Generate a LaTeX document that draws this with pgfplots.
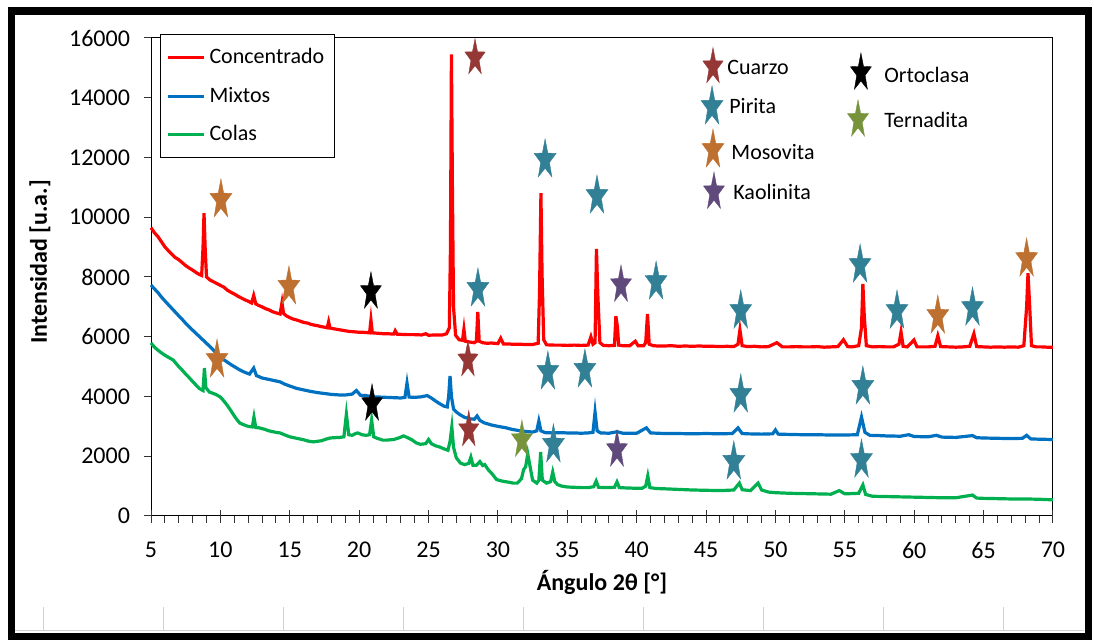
\documentclass[border=0pt]{standalone}
\usepackage{fontspec}
\setmainfont{Carlito}
\usepackage{pgfplots}
\pgfplotsset{compat=1.18}
\definecolor{cred}{RGB}{255,0,0}
\definecolor{cblue}{RGB}{0,112,192}
\definecolor{cgreen}{RGB}{0,176,80}
\definecolor{cuarzo}{RGB}{149,55,53}
\definecolor{pirita}{RGB}{49,128,150}
\definecolor{mosovita}{RGB}{190,112,48}
\definecolor{kaolinita}{RGB}{96,74,123}
\definecolor{ternadita}{RGB}{119,147,60}
\pgfdeclareplotmark{xstar}{%
  \pgfpathmoveto{\pgfpoint{0pt}{\pgfplotmarksize}}%
  \pgfpathlineto{\pgfpoint{0.1294\pgfplotmarksize}{0.3236\pgfplotmarksize}}%
  \pgfpathlineto{\pgfpoint{0.5231\pgfplotmarksize}{0.309\pgfplotmarksize}}%
  \pgfpathlineto{\pgfpoint{0.2092\pgfplotmarksize}{-0.1236\pgfplotmarksize}}%
  \pgfpathlineto{\pgfpoint{0.3233\pgfplotmarksize}{-0.809\pgfplotmarksize}}%
  \pgfpathlineto{\pgfpoint{0pt}{-0.4\pgfplotmarksize}}%
  \pgfpathlineto{\pgfpoint{-0.3233\pgfplotmarksize}{-0.809\pgfplotmarksize}}%
  \pgfpathlineto{\pgfpoint{-0.2092\pgfplotmarksize}{-0.1236\pgfplotmarksize}}%
  \pgfpathlineto{\pgfpoint{-0.5231\pgfplotmarksize}{0.309\pgfplotmarksize}}%
  \pgfpathlineto{\pgfpoint{-0.1294\pgfplotmarksize}{0.3236\pgfplotmarksize}}%
  \pgfpathclose
  \pgfusepathqfillstroke
}
\pgfplotstableread{
x y
5.0 9650
5.25 9480
5.5 9350
5.75 9180
6.0 9010
6.25 8880
6.5 8760
6.75 8650
7.0 8580
7.25 8480
7.5 8380
7.75 8300
8.0 8230
8.25 8150
8.5 8080
8.65 8050
8.75 9000
8.82 10140
8.9 9000
9.0 8000
9.25 7900
9.5 7840
9.75 7780
10.0 7720
10.25 7660
10.5 7560
10.75 7490
11.0 7430
11.25 7360
11.5 7300
11.75 7240
12.0 7190
12.25 7130
12.4 7380
12.55 7100
12.75 7050
13.0 7000
13.25 6940
13.5 6900
13.75 6840
14.0 6800
14.3 6760
14.44 7140
14.55 6780
14.75 6700
15.0 6640
15.25 6590
15.5 6560
15.75 6520
16.0 6480
16.25 6460
16.5 6420
16.75 6390
17.0 6370
17.25 6340
17.5 6320
17.7 6300
17.8 6500
17.9 6290
18.25 6260
18.5 6240
18.75 6220
19.0 6200
19.25 6180
19.5 6170
19.75 6160
20.0 6150
20.25 6150
20.5 6140
20.75 6130
20.85 6560
20.95 6130
21.25 6120
21.5 6110
21.75 6100
22.0 6100
22.5 6090
22.6 6200
22.75 6080
23.0 6080
23.5 6070
24.0 6070
24.5 6060
24.8 6100
25.0 6050
25.5 6060
26.0 6060
26.3 6100
26.5 6300
26.58 9000
26.65 15450
26.72 11000
26.8 7000
26.95 6050
27.2 5900
27.45 5880
27.55 6250
27.65 5850
28.0 5820
28.3 5800
28.45 5850
28.55 6830
28.65 5850
28.9 5800
29.25 5780
29.5 5790
30.0 5770
30.2 5950
30.4 5760
30.75 5760
31.0 5750
31.5 5750
32.0 5740
32.5 5740
32.9 5780
33.0 7500
33.1 10810
33.18 8100
33.3 5900
33.5 5730
34.0 5720
34.5 5720
35.0 5710
35.5 5720
36.0 5710
36.5 5720
36.7 6000
36.85 5750
37.0 5800
37.1 8940
37.2 7400
37.35 5800
37.6 5710
38.0 5700
38.4 5710
38.5 6690
38.62 6300
38.7 5720
39.0 5700
39.5 5700
39.9 5850
40.1 5700
40.5 5700
40.65 5800
40.78 6760
40.9 5750
41.2 5700
41.5 5690
42 5690
42.5 5700
43 5680
43.5 5690
44 5680
44.5 5690
45 5680
45.5 5680
46 5670
46.5 5680
47 5670
47.3 5750
47.44 6230
47.6 5700
48 5670
48.5 5680
49 5660
49.5 5670
50.1 5800
50.5 5660
51 5660
51.5 5670
52 5660
52.5 5660
53 5670
53.5 5650
54 5660
54.5 5670
54.9 5900
55.2 5670
55.5 5660
56.0 5700
56.2 6300
56.3 7770
56.4 6700
56.55 5700
57 5660
57.5 5670
58 5660
58.5 5660
58.9 5750
59.05 6160
59.2 5680
59.5 5660
59.98 5890
60.2 5660
60.5 5660
61 5660
61.5 5680
61.7 6030
61.9 5670
62.5 5660
63 5650
63.5 5660
64.0 5680
64.3 6100
64.5 5670
65 5660
65.5 5650
66 5660
66.5 5650
67 5660
67.5 5650
67.9 5700
68.1 7000
68.2 8130
68.32 7030
68.45 5700
68.8 5660
69.2 5660
69.6 5650
70 5650
}\concentrado
\pgfplotstableread{
x y
5.0 7730
5.25 7600
5.5 7480
5.75 7330
6.0 7200
6.3 7050
6.6 6900
7.0 6700
7.25 6580
7.5 6450
7.75 6330
8.0 6220
8.25 6110
8.5 6000
8.75 5890
9.0 5780
9.25 5670
9.5 5550
9.75 5430
10.0 5320
10.25 5230
10.5 5150
10.75 5070
11.0 5000
11.4 4890
11.75 4810
12.1 4750
12.4 4950
12.6 4700
13.0 4620
13.5 4570
14.0 4520
14.3 4490
14.6 4420
15.0 4350
15.5 4270
16.0 4220
16.5 4170
17.0 4130
17.5 4100
18.0 4070
18.6 4050
19.0 4050
19.5 4080
19.8 4200
20.1 4040
20.5 4030
21.0 3980
21.5 3980
22.0 3970
22.5 3960
23.0 3950
23.3 3970
23.45 4450
23.6 3980
24.0 3970
24.5 3990
24.9 4030
25.2 3950
25.5 3850
25.8 3760
26.1 3680
26.35 3650
26.45 4000
26.55 4690
26.65 4000
26.8 3580
27.0 3480
27.3 3380
27.6 3300
28.0 3250
28.3 3240
28.5 3350
28.7 3200
29.0 3120
29.5 3050
30.0 3000
30.6 2950
31.0 2900
31.5 2860
32.0 2830
32.5 2810
32.8 2850
32.95 3180
33.1 2850
33.4 2790
34.0 2780
34.5 2790
35.0 2780
35.5 2780
36.0 2770
36.5 2780
36.85 2800
37.0 3480
37.15 2850
37.4 2780
38.0 2770
38.6 2820
39.0 2770
39.5 2770
40.0 2770
40.7 2950
41.0 2780
41.5 2770
42 2760
43 2760
44 2750
45 2760
46 2750
46.9 2760
47.3 2950
47.6 2760
48 2750
49 2740
49.8 2750
50.0 2880
50.2 2740
51 2730
52 2720
53 2720
54 2710
55 2710
55.9 2720
56.2 3310
56.45 2800
56.8 2700
57.5 2690
58 2680
59 2670
59.6 2720
60 2660
61 2650
61.6 2700
62 2640
63 2630
64.2 2690
64.5 2620
65 2610
66 2600
67 2590
67.8 2600
68.1 2700
68.4 2580
69 2570
70 2560
}\mixtos
\pgfplotstableread{
x y
5.0 5790
5.25 5650
5.5 5550
5.75 5460
6.0 5380
6.3 5300
6.6 5220
7.0 5000
7.25 4880
7.5 4750
7.75 4630
8.0 4500
8.25 4380
8.5 4260
8.75 4200
8.85 4950
8.95 4300
9.2 4150
9.5 4100
9.75 4050
10.0 3980
10.25 3850
10.5 3700
10.75 3530
11.0 3350
11.2 3220
11.4 3110
11.7 3050
12.0 3000
12.3 2980
12.42 3310
12.55 2960
12.8 2950
13.2 2900
13.5 2850
14.0 2800
14.3 2780
14.6 2720
15.0 2650
15.5 2600
16.0 2550
16.3 2510
16.7 2480
17.0 2500
17.3 2520
17.6 2570
17.9 2610
18.2 2620
18.6 2630
18.9 2650
19.08 3410
19.25 2720
19.5 2700
19.75 2760
19.9 2780
20.2 2720
20.5 2700
20.75 2720
20.9 3210
21.05 2650
21.3 2600
21.7 2540
22.0 2540
22.5 2560
22.9 2620
23.2 2680
23.5 2620
23.8 2550
24.1 2450
24.4 2400
24.8 2420
25.0 2560
25.2 2420
25.5 2350
25.8 2310
26.1 2250
26.4 2200
26.55 2500
26.68 2980
26.8 2300
27.0 1950
27.3 1770
27.6 1720
27.9 1760
28.05 1970
28.2 1700
28.45 1700
28.7 1820
28.9 1690
29.05 1720
29.3 1550
29.6 1400
29.9 1220
30.2 1180
30.5 1150
30.8 1130
31.1 1100
31.4 1100
31.7 1250
31.85 1550
32.0 1650
32.15 2080
32.3 1700
32.5 1200
32.8 1100
32.95 1200
33.08 2140
33.2 1200
33.5 1100
33.8 1150
33.95 1470
34.1 1150
34.3 1050
34.6 1000
35.0 970
35.5 960
36.0 950
36.5 950
36.9 980
37.08 1170
37.25 960
37.8 950
38.4 960
38.58 1140
38.75 950
39.2 940
39.8 930
40.4 930
40.65 1000
40.8 1340
40.95 950
41.4 920
42 910
43 890
44 870
45 860
46 850
47 870
47.4 1100
47.6 880
48.2 850
48.75 1100
49.0 870
49.5 800
50 780
51 760
52 750
53 740
54 730
54.6 850
55 740
56 760
56.3 1040
56.5 720
57 660
58 650
59 640
60 630
61 620
62 610
63 610
64.2 700
64.5 600
65 590
66 580
67 570
68 570
69 560
70 540
}\colas
\begin{document}
\begin{tikzpicture}
\path[use as bounding box] (0pt,0pt) rectangle (547pt,320pt);
% spreadsheet cell lines below the chart
\draw[gray!35, line width=0.5pt] (7.5pt,4.5pt) -- (542pt,4.5pt);
\foreach \gx in {43,163,283,403,523,643,763,883,1003}{
  \draw[gray!35, line width=0.5pt] (\gx*0.5pt,4.5pt) -- (\gx*0.5pt,16.5pt);
}
\begin{axis}[
  at={(75.5pt,62pt)}, anchor=south west,
  scale only axis, width=451pt, height=239pt,
  xmin=5, xmax=70, ymin=0, ymax=16000,
  clip=false,
  axis line style={line width=0.5pt},
  xtick={5,10,...,70}, ytick={0,2000,...,16000},
  minor x tick num=4,
  xtick pos=bottom, ytick pos=left,
  xtick align=outside, ytick align=outside,
  major tick length=3.5pt, minor tick length=3.5pt,
  tick style={line width=0.5pt, black!80},
  extra x ticks={5,10,...,70}, extra x tick labels={},
  extra x tick style={xtick align=inside, major tick length=3pt},
  scaled y ticks=false,
  /pgf/number format/assume math mode=true,
  yticklabel style={/pgf/number format/fixed, /pgf/number format/1000 sep={}, xshift=-3.5pt},
  xticklabel style={yshift=-6pt},
  tick label style={font=\fontsize{12}{14}\selectfont},
  legend image code/.code={\draw[#1, line width=1.5pt] (0pt,0pt) -- (18pt,0pt);},
  legend style={at={(rel axis cs:0.01,1.008)}, anchor=north west, draw=black, line width=0.5pt,
    font=\fontsize{11}{13}\selectfont, inner xsep=3pt, inner ysep=5pt, row sep=6pt},
  legend cell align=left,
]
\addplot[cred, line width=1.6pt] table[x=x,y=y] {\concentrado};
\addlegendentry{Concentrado}
\addplot[cblue, line width=1.6pt] table[x=x,y=y] {\mixtos};
\addlegendentry{Mixtos}
\addplot[cgreen, line width=1.6pt] table[x=x,y=y] {\colas};
\addlegendentry{Colas}
% peak identification stars
\addplot[forget plot, only marks, mark=xstar, mark size=10.5pt, mark options={fill=mosovita, draw=mosovita, line width=0.2pt}] coordinates {
(10.04,10580) (14.94,7670) (9.76,5220) (61.7,6690) (68.1,8600) (45.5,12250)};
\addplot[forget plot, only marks, mark=xstar, mark size=10.5pt, mark options={fill=pirita, draw=pirita, line width=0.2pt}] coordinates {
(28.56,7600) (33.4,11920) (37.14,10710) (41.4,7830) (47.5,6860) (56.1,8400) (58.76,6860) (64.2,6960)
(33.6,4820) (36.27,4890) (47.5,4050) (56.3,4320) (34.0,2380) (47.0,1810) (56.2,1870) (45.43,13690)};
\addplot[forget plot, only marks, mark=xstar, mark size=9.7pt, mark options={fill=cuarzo, draw=cuarzo, line width=0.2pt}] coordinates {
(28.35,15330) (27.84,5220) (27.9,2880) (45.5,15030)};
\addplot[forget plot, only marks, mark=xstar, mark size=10pt, mark options={fill=kaolinita, draw=kaolinita, line width=0.2pt}] coordinates {
(38.87,7730) (38.58,2210) (45.57,10840)};
\addplot[forget plot, only marks, mark=xstar, mark size=10pt, mark options={fill=black, draw=black, line width=0.2pt}] coordinates {
(20.85,7500) (20.93,3750) (56.16,14830)};
\addplot[forget plot, only marks, mark=xstar, mark size=10pt, mark options={fill=ternadita, draw=ternadita, line width=0.2pt}] coordinates {
(31.73,2540) (55.95,13260)};
\begin{scope}[every node/.style={anchor=west, inner sep=0pt, font=\fontsize{11}{13}\selectfont}]
\node at (axis cs:46.51,15000) {Cuarzo};
\node at (axis cs:46.65,13720) {Pirita};
\node at (axis cs:46.8,12180) {Mosovita};
\node at (axis cs:46.94,10850) {Kaolinita};
\node at (axis cs:57.82,14760) {Ortoclasa};
\node at (axis cs:57.82,13260) {Ternadita};
\end{scope}
\end{axis}
\node[font=\bfseries\fontsize{12}{14}\selectfont] at (301pt,29pt) {Ángulo 2θ [°]};
\node[font=\bfseries\fontsize{12}{14}\selectfont, rotate=90] at (20pt,189pt) {Intensidad [u.a.]};
\draw[line width=3.75pt] (5.75pt,1.5pt) rectangle (544.25pt,314.5pt);
\end{tikzpicture}
\end{document}
